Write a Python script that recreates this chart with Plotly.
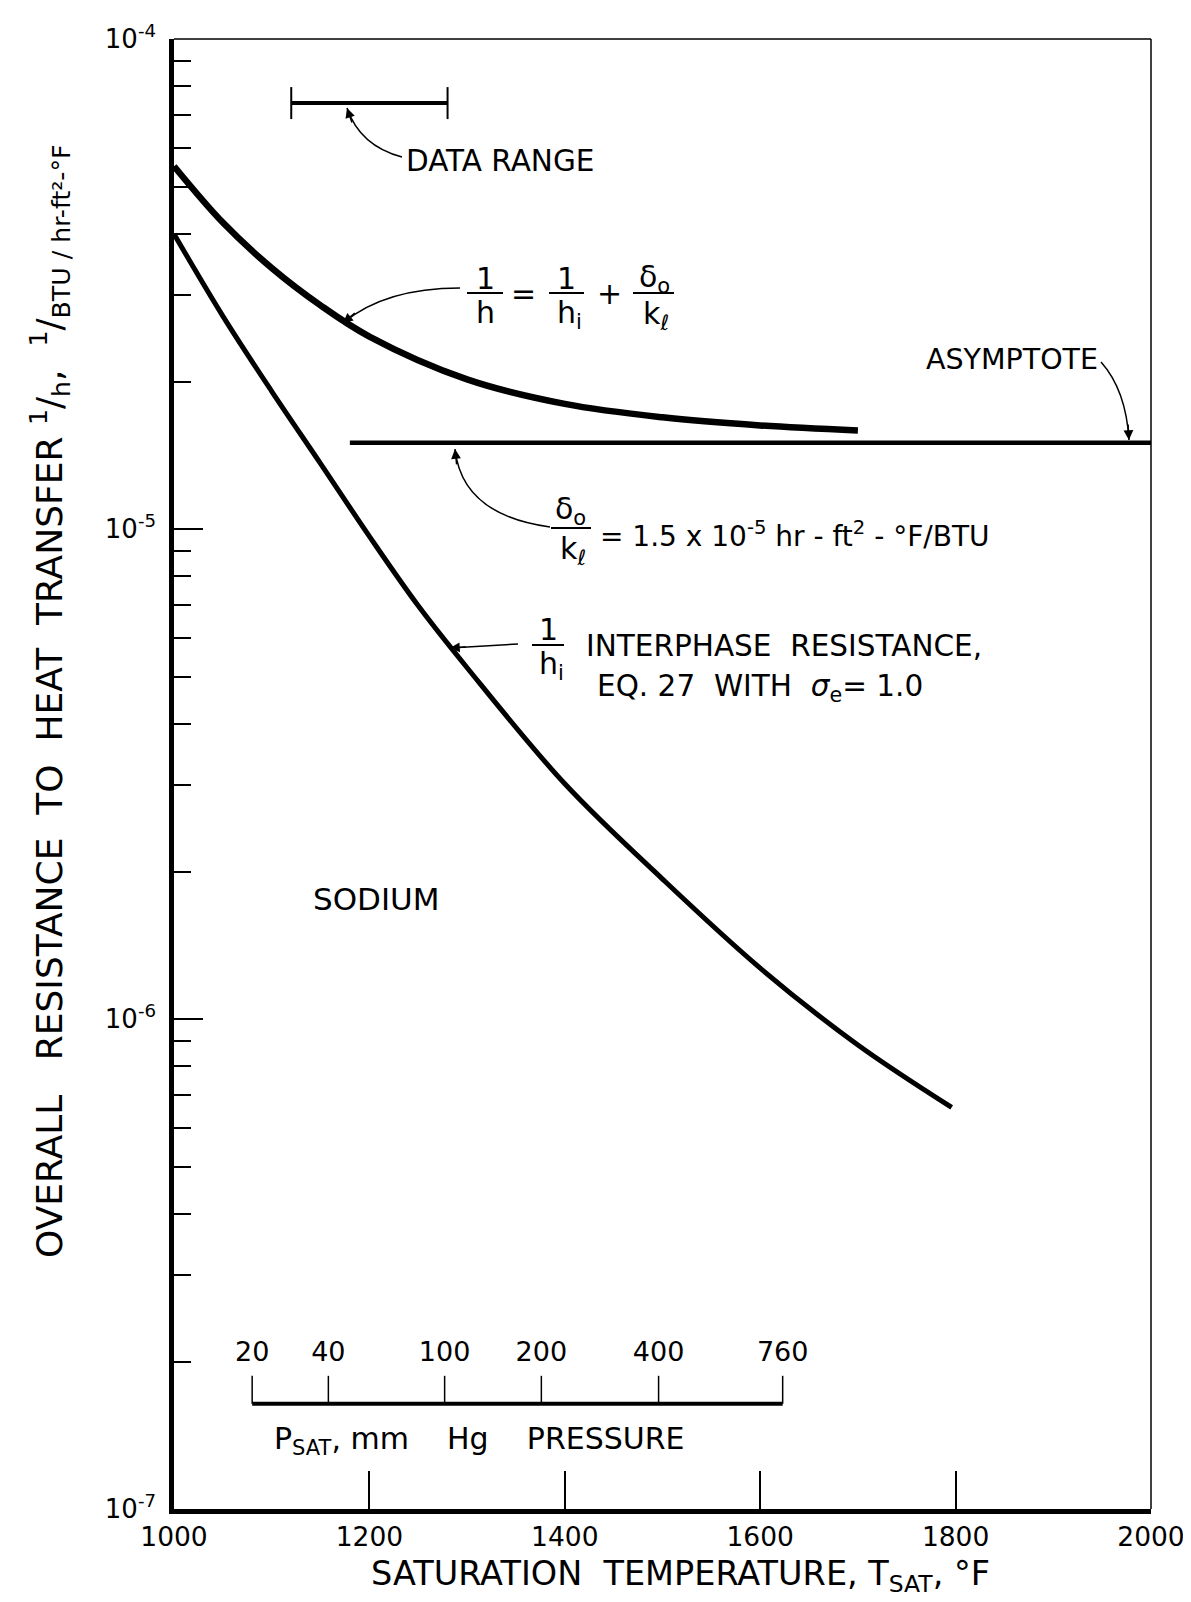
import math
import plotly.graph_objects as go

# ---------------- data ----------------
T_OVERALL = [1000, 1050, 1100, 1150, 1200, 1300, 1400, 1500, 1600, 1700]
R_OVERALL = [5.5e-5, 4.22e-5, 3.41e-5, 2.86e-5, 2.47e-5, 2.02e-5, 1.80e-5, 1.69e-5, 1.627e-5, 1.589e-5]

T_INTERPHASE = [1000, 1050, 1100, 1150, 1200, 1250, 1300, 1400, 1500, 1600, 1700, 1796]
R_INTERPHASE = [4.0e-5, 2.72e-5, 1.91e-5, 1.36e-5, 9.66e-6, 6.97e-6, 5.21e-6, 3.02e-6, 1.93e-6, 1.27e-6,
                8.85e-7, 6.6e-7]

T_ASYMPTOTE = [1180, 2000]
R_ASYMPTOTE = [1.5e-5, 1.5e-5]

T_DATA_RANGE = [1120, 1280]
R_DATA_RANGE = 7.4e-5

PSAT_LABELS = ["20", "40", "100", "200", "400", "760"]
PSAT_T = [1080, 1158, 1277, 1376, 1496, 1623]

X_TICKS = [1000, 1200, 1400, 1600, 1800, 2000]
X_TICKTEXT = ["1000", "1200", "1400", "1600", "1800", "2000"]
Y_TICKS = [1e-7, 1e-6, 1e-5, 1e-4]
Y_TICKTEXT = ["10<sup>-7</sup>", "10<sup>-6</sup>", "10<sup>-5</sup>", "10<sup>-4</sup>"]
Y_MINOR = [k * 10.0 ** e for e in (-7, -6, -5) for k in range(2, 10)]

# ---------------- layout geometry (page pixels) ----------------
OFF = 8                      # default body margin of the html page
L, TOP, W, H = 174, 39, 977, 1470   # plot area in page pixels
FIG_W, FIG_H = 1191, 1602 - OFF
FONT = "DejaVu Sans, Liberation Sans, Arial, sans-serif"


def px(x):
    return (x - L) / W


def py(y):
    return 1 - (y - TOP) / H


shapes = []
annotations = []

fig = go.Figure()

# curves
fig.add_trace(go.Scatter(x=T_OVERALL, y=R_OVERALL, mode="lines",
                         line=dict(color="black", width=6.5, shape="spline", smoothing=1.0),
                         showlegend=False, hoverinfo="skip"))
fig.add_trace(go.Scatter(x=T_INTERPHASE, y=R_INTERPHASE, mode="lines",
                         line=dict(color="black", width=5, shape="spline", smoothing=1.0),
                         showlegend=False, hoverinfo="skip"))
fig.add_trace(go.Scatter(x=T_ASYMPTOTE, y=R_ASYMPTOTE, mode="lines",
                         line=dict(color="black", width=4.5),
                         showlegend=False, hoverinfo="skip"))

# data range bar
fig.add_trace(go.Scatter(x=T_DATA_RANGE, y=[R_DATA_RANGE, R_DATA_RANGE], mode="lines",
                         line=dict(color="black", width=4), showlegend=False, hoverinfo="skip"))
cap_lo, cap_hi = R_DATA_RANGE / 1.078, R_DATA_RANGE * 1.078
cx, cy = [], []
for t in T_DATA_RANGE:
    cx += [t, t, None]
    cy += [cap_lo, cap_hi, None]
fig.add_trace(go.Scatter(x=cx, y=cy, mode="lines", line=dict(color="black", width=2),
                         showlegend=False, hoverinfo="skip"))

# pressure scale
P_LINE_Y, P_TICK_TOP, P_LABEL_Y = 1.64e-7, 1.87e-7, 2.07e-7
fig.add_trace(go.Scatter(x=[PSAT_T[0], PSAT_T[-1]], y=[P_LINE_Y, P_LINE_Y], mode="lines",
                         line=dict(color="black", width=4), showlegend=False, hoverinfo="skip"))
tx, ty = [], []
for t in PSAT_T:
    tx += [t, t, None]
    ty += [P_LINE_Y, P_TICK_TOP, None]
fig.add_trace(go.Scatter(x=tx, y=ty, mode="lines", line=dict(color="black", width=1.5),
                         showlegend=False, hoverinfo="skip"))
fig.add_trace(go.Scatter(x=PSAT_T, y=[P_LABEL_Y] * len(PSAT_T), mode="text", text=PSAT_LABELS,
                         textposition="middle center", textfont=dict(size=27, color="black", family=FONT),
                         showlegend=False, hoverinfo="skip"))

# top and right thin frame lines
shapes.append(dict(type="line", xref="paper", yref="paper", x0=0, x1=1, y0=1, y1=1,
                   line=dict(color="black", width=1.5)))
shapes.append(dict(type="line", xref="paper", yref="paper", x0=1, x1=1, y0=0, y1=1,
                   line=dict(color="black", width=1.5)))


def text(t, x, y, size=29, xanchor="center", yanchor="middle", angle=0):
    annotations.append(dict(text=t, x=px(x), y=py(y), xref="paper", yref="paper",
                            xanchor=xanchor, yanchor=yanchor, showarrow=False, textangle=angle,
                            font=dict(size=size, color="black", family=FONT)))


def bar(x0, x1, y):
    shapes.append(dict(type="line", xref="paper", yref="paper", x0=px(x0), x1=px(x1), y0=py(y), y1=py(y),
                       line=dict(color="black", width=2)))


def arrow(tail, ctrl, tip):
    (x0, y0), (qx, qy), (x1, y1) = tail, ctrl, tip
    path = f"M {px(x0)},{py(y0)} Q {px(qx)},{py(qy)} {px(x1)},{py(y1)}"
    shapes.append(dict(type="path", path=path, xref="paper", yref="paper",
                       line=dict(color="black", width=1.5)))
    dx, dy = qx - x1, qy - y1
    n = math.hypot(dx, dy)
    annotations.append(dict(x=px(x1), y=py(y1), xref="paper", yref="paper", text=" ",
                            showarrow=True, ax=dx / n * 18, ay=dy / n * 18, arrowhead=2,
                            arrowsize=1.3, arrowwidth=1.5, arrowcolor="black", standoff=0,
                            font=dict(size=2)))


# DATA RANGE
text("DATA RANGE", 404, 161, xanchor="left", size=29.5)
arrow((402, 157), (360, 146), (347, 108))

# 1/h = 1/hi + do/kl
text("1", 485, 279, size=30)
bar(467, 503, 293)
text("h", 485, 313, size=30)
text("=", 523, 293, size=30)
text("1", 566, 279, size=30)
bar(549, 584, 293)
text("h<sub>i</sub>", 569, 314, size=30)
text("+", 609, 293, size=30)
text("δ<sub>o</sub>", 654, 278, size=30)
bar(633, 674, 293)
text("k<sub>ℓ</sub>", 656, 315, size=30)
arrow((460, 288), (385, 288), (343, 323))

# ASYMPTOTE
text("ASYMPTOTE", 924, 360, xanchor="left", size=28.5)
arrow((1101, 362), (1126, 390), (1129, 440))

# do/kl = 1.5e-5
text("δ<sub>o</sub>", 570, 510, size=30)
bar(551, 591, 528)
text("k<sub>ℓ</sub>", 573, 550, size=30)
text("= 1.5 x 10<sup>-5</sup> hr - ft<sup>2</sup> - °F/BTU", 598, 534, size=28, xanchor="left")
arrow((550, 527), (462, 515), (455, 449))

# 1/hi interphase
text("1", 548, 630, size=30)
bar(532, 564, 645)
text("h<sub>i</sub>", 551, 665, size=30)
text("INTERPHASE  RESISTANCE,", 584, 646, xanchor="left", size=29.5)
text("EQ. 27  WITH  <i>σ</i><sub>e</sub>= 1.0", 595, 688, xanchor="left", size=29.5)
arrow((518, 644), (483, 646), (450, 648))

# SODIUM
text("SODIUM", 376, 899, size=31)

# pressure label
text("P<sub>SAT</sub>, mm\u00a0\u00a0\u00a0 Hg\u00a0\u00a0\u00a0 PRESSURE", 272, 1440, xanchor="left", size=30)

# axis titles
text("SATURATION\u00a0 TEMPERATURE, T<sub>SAT</sub>, °F", 680, 1576, size=33.5)
text("OVERALL\u00a0\u00a0 RESISTANCE\u00a0 TO\u00a0 HEAT\u00a0 TRANSFER <sup>1</sup>/<sub>h</sub>,\u00a0 "
     "<sup>1</sup>/<sub>BTU / hr-ft²-°F</sub>", 50, 701, size=36, angle=-90)

fig.update_layout(
    width=FIG_W, height=FIG_H,
    margin=dict(l=L - OFF, r=FIG_W - (L - OFF) - W, t=TOP - OFF, b=FIG_H - (TOP - OFF) - H, pad=0),
    paper_bgcolor="white", plot_bgcolor="white",
    font=dict(family=FONT, color="black"),
    shapes=shapes, annotations=annotations,
    xaxis=dict(range=[1000, 2000], tickmode="array", tickvals=X_TICKS, ticktext=X_TICKTEXT,
               ticks="inside", ticklen=38, tickwidth=1.5, tickcolor="black",
               showline=True, linewidth=4.5, linecolor="black", showgrid=False, zeroline=False,
               tickfont=dict(size=26.5, family=FONT, color="black"), ticklabelstandoff=0,
               ticklabeloverflow="allow", automargin=False),
    yaxis=dict(type="log", range=[-7, -4], tickmode="array", tickvals=Y_TICKS, ticktext=Y_TICKTEXT,
               ticks="inside", ticklen=29, tickwidth=1.5, tickcolor="black",
               minor=dict(tickmode="array", tickvals=Y_MINOR, ticks="inside", ticklen=17,
                          tickwidth=1.5, tickcolor="black", showgrid=False),
               showline=True, linewidth=4.5, linecolor="black", showgrid=False, zeroline=False,
               tickfont=dict(size=26, family=FONT, color="black"), ticklabelstandoff=8,
               ticklabeloverflow="allow", automargin=False),
)

fig.write_html("out.html")
